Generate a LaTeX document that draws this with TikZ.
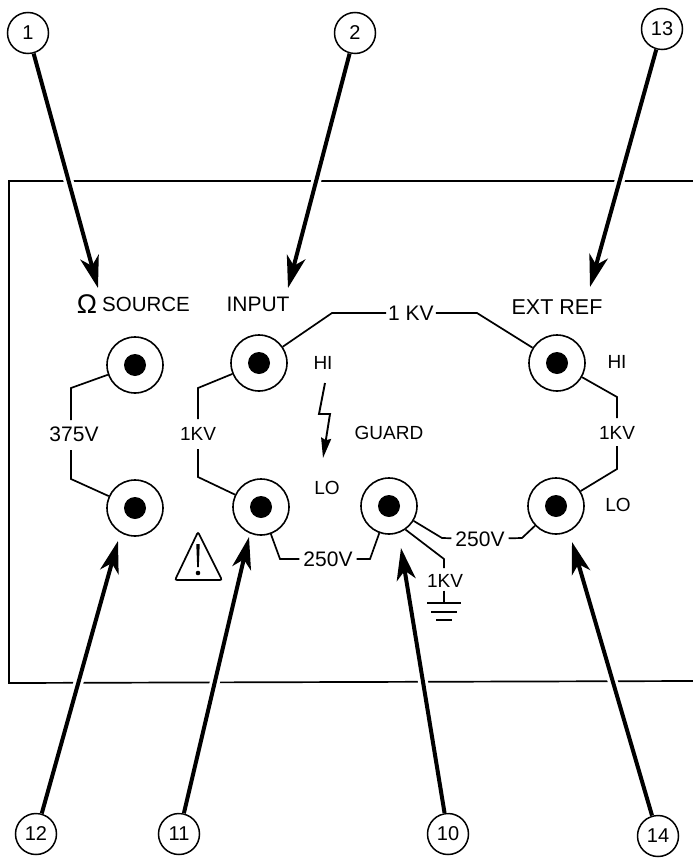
\documentclass[tikz,border=0pt]{standalone}
\usepackage{fontspec}
\setmainfont{Liberation Sans}
\usetikzlibrary{arrows.meta,backgrounds}

\begin{document}
\begin{tikzpicture}[
  x=1pt, y=-1pt, font=\fontsize{19}{21}\selectfont,
  jack/.style={draw, circle, line width=1.6pt, minimum size=56pt, inner sep=0pt,
    path picture={\fill (path picture bounding box.center) circle (11pt);}},
  callout/.style={draw, circle, line width=1.5pt, minimum size=41pt, inner sep=0pt, fill=white, font=\fontsize{20}{22}\selectfont},
  tag/.style={inner sep=2pt},
  big/.style={tag, font=\fontsize{21}{23}\selectfont},
  wire/.style={line width=1.7pt, line join=miter},
  pointer/.style={line width=4pt, -{Stealth[length=32pt,width=19pt,inset=9pt]},
    preaction={draw=white, line width=10pt, -{Stealth[length=1pt,width=1pt]}, shorten >=30pt}}
]
  \useasboundingbox (0,0) rectangle (693,859);

  % front panel
  \begin{scope}[on background layer]
    \draw[line width=1.7pt] (693,181) -- (9,181) -- (9,683) -- (693,681);
  \end{scope}

  % sockets
  \node[jack] (srchi) at (135,365) {};
  \node[jack] (srclo) at (135,508) {};
  \node[jack] (inphi) at (259,363) {};
  \node[jack] (inplo) at (261,507) {};
  \node[jack] (guard) at (389,506) {};
  \node[jack] (exthi) at (557,363) {};
  \node[jack] (extlo) at (556,506) {};

  % panel labels
  \node[tag, font=\fontsize{27}{29}\selectfont] (omega) at (87,304) {Ω};
  \node[tag, font=\fontsize{20.5}{22}\selectfont, anchor=west] (source) at (100,304) {SOURCE};
  \node[big] (input) at (258,304) {INPUT};
  \node[tag, font=\fontsize{21.5}{23}\selectfont] (extref) at (557,307) {EXT REF};
  \node[tag] (inphitxt) at (323,363) {HI};
  \node[tag] (inplotxt) at (327,488) {LO};
  \node[tag] (exthitxt) at (617,362) {HI};
  \node[tag] (extlotxt) at (618,505) {LO};
  \node[tag] (guardtxt) at (389,433) {GUARD};

  % voltage ratings
  \node[big] (vsrc) at (74,434) {375V};
  \node[tag] (vinp) at (198,434) {1KV};
  \node[big] (vtop) at (411,313) {1 KV};
  \node[tag] (vext) at (617,433) {1KV};
  \node[big, inner sep=4pt] (vlo) at (328,559) {250V};
  \node[big, inner sep=4pt] (vgd) at (480,539) {250V};
  \node[tag] (vgnd) at (445,581) {1KV};

  % rating wires
  \draw[wire] (srchi) -- (71,388) -- (71,420);
  \draw[wire] (71,450) -- (71,479) -- (srclo);
  \draw[wire] (inphi) -- (198,388) -- (198,419);
  \draw[wire] (198,449) -- (198,477) -- (inplo);
  \draw[wire] (inphi) -- (332,313) -- (vtop);
  \draw[wire] (vtop) -- (477,313) -- (exthi);
  \draw[wire] (exthi) -- (617,397) -- (617,418);
  \draw[wire] (617,446) -- (617,469) -- (extlo);
  \draw[wire] (inplo) -- (280,559) -- (vlo);
  \draw[wire] (vlo) -- (370,559) -- (guard);
  \draw[wire] (guard) -- (442,538) -- (vgd);
  \draw[wire] (vgd) -- (522,538) -- (extlo);
  \draw[wire] (guard.-55) -- (444,559) -- (444,568);

  % earth symbol
  \coordinate (earth) at (444,603);
  \draw[wire] (vgnd.south) ++(-1,1) -- (earth);
  \draw[line width=1.7pt] (427,603) -- (461,603);
  \draw[line width=2pt] (431,612) -- (457,612);
  \draw[line width=2.2pt] (436,620) -- (452,620);

  % flash arrow and warning sign
  \draw[line width=1.9pt, line join=miter, -{Stealth[length=20pt,width=10pt,inset=2pt]}]
    (325,383) -- (319,414) -- (330,414) -- (323,458);
  \draw[line width=1.7pt, rounded corners=2pt] (198,532) -- (222,580) -- (175,580) -- cycle;
  \fill (196.3,544) -- (199.7,544) -- (198.8,567) -- (197.2,567) -- cycle;
  \fill (198,573) circle (2.3pt);

  % callouts
  \node[callout] (n1) at (28,33) {1};
  \node[callout] (n2) at (355,33) {2};
  \node[callout] (n13) at (662,29) {13};
  \node[callout] (n12) at (36,834) {12};
  \node[callout] (n11) at (179,834) {11};
  \node[callout] (n10) at (448,834) {10};
  \node[callout] (n14) at (658,836) {14};

  \coordinate (t1) at (98,288);
  \coordinate (t2) at (288,288);
  \coordinate (t13) at (590,287);
  \coordinate (t12) at (118,541);
  \coordinate (t11) at (249,537);
  \coordinate (t10) at (401,548);
  \coordinate (t14) at (572,542);

  \draw[pointer] (n1) -- (t1);
  \draw[pointer] (n2) -- (t2);
  \draw[pointer] (n13) -- (t13);
  \draw[pointer] (n12) -- (t12);
  \draw[pointer] (n11) -- (t11);
  \draw[pointer] (n10) -- (t10);
  \draw[pointer] (n14) -- (t14);
\end{tikzpicture}
\end{document}
